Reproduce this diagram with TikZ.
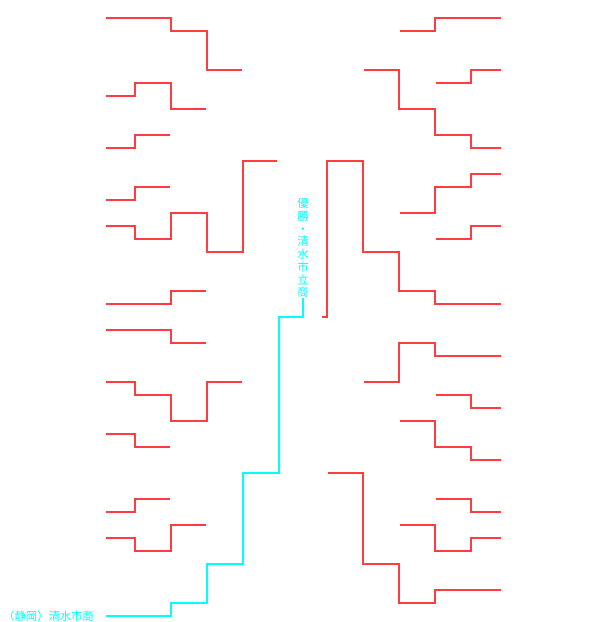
\documentclass[tikz,border=0pt]{standalone}
\usepackage{fontspec}
\newfontfamily\jpfont{Noto Sans CJK JP}
\definecolor{winred}{RGB}{255,60,64}
\definecolor{champcyan}{RGB}{0,255,255}

\begin{document}
\begin{tikzpicture}[x=1pt,y=-1pt,
    win/.style={draw=winred,line width=1.7pt},
    champ/.style={draw=champcyan,line width=1.7pt},
    label/.style={text=champcyan,inner sep=0pt,font=\jpfont\fontsize{11.3}{12.75}\selectfont}]
            \useasboundingbox (0,0) rectangle (608,622);
            % left half
            \draw[win] (106,17.7) -- (171,17.7) -- (171,30.7) -- (207,30.7) -- (207,69.7) -- (242,69.7);
            \draw[win] (106,95.7) -- (135,95.7) -- (135,82.7) -- (171,82.7) -- (171,108.7) -- (206,108.7);
            \draw[win] (106,147.7) -- (135,147.7) -- (135,134.7) -- (170,134.7);
            \draw[win] (106,199.7) -- (135,199.7) -- (135,186.7) -- (170,186.7);
            \draw[win] (106,225.7) -- (135,225.7) -- (135,238.7) -- (171,238.7) -- (171,212.7) -- (207,212.7) -- (207,251.7) -- (243,251.7) -- (243,160.7) -- (277,160.7);
            \draw[win] (106,303.7) -- (171,303.7) -- (171,290.7) -- (206,290.7);
            \draw[win] (106,329.7) -- (171,329.7) -- (171,342.7) -- (206,342.7);
            \draw[win] (106,381.7) -- (135,381.7) -- (135,394.7) -- (171,394.7) -- (171,420.7) -- (207,420.7) -- (207,381.7) -- (242,381.7);
            \draw[win] (106,433.7) -- (135,433.7) -- (135,446.7) -- (170,446.7);
            \draw[win] (106,511.7) -- (135,511.7) -- (135,498.7) -- (170,498.7);
            \draw[win] (106,537.7) -- (135,537.7) -- (135,550.7) -- (171,550.7) -- (171,524.7) -- (206,524.7);
            % right half
            \draw[win] (501,17.7) -- (435,17.7) -- (435,30.7) -- (400,30.7);
            \draw[win] (501,69.7) -- (471,69.7) -- (471,82.7) -- (436,82.7);
            \draw[win] (501,147.7) -- (471,147.7) -- (471,134.7) -- (435,134.7) -- (435,108.7) -- (399,108.7) -- (399,69.7) -- (364,69.7);
            \draw[win] (501,173.7) -- (471,173.7) -- (471,186.7) -- (435,186.7) -- (435,212.7) -- (400,212.7);
            \draw[win] (501,225.7) -- (471,225.7) -- (471,238.7) -- (436,238.7);
            \draw[win] (501,303.7) -- (435,303.7) -- (435,290.7) -- (399,290.7) -- (399,251.7) -- (363,251.7) -- (363,160.7) -- (327,160.7) -- (327,316.7) -- (322,316.7);
            \draw[win] (501,355.7) -- (435,355.7) -- (435,342.7) -- (399,342.7) -- (399,381.7) -- (364,381.7);
            \draw[win] (501,407.7) -- (471,407.7) -- (471,394.7) -- (436,394.7);
            \draw[win] (501,459.7) -- (471,459.7) -- (471,446.7) -- (435,446.7) -- (435,420.7) -- (400,420.7);
            \draw[win] (501,511.7) -- (471,511.7) -- (471,498.7) -- (436,498.7);
            \draw[win] (501,537.7) -- (471,537.7) -- (471,550.7) -- (435,550.7) -- (435,524.7) -- (400,524.7);
            \draw[win] (501,589.7) -- (435,589.7) -- (435,602.7) -- (399,602.7) -- (399,563.7) -- (363,563.7) -- (363,472.7) -- (328,472.7);
            % champion
            \node[label,anchor=east] (shimizu) at (94,615.7) {（静岡）清水市商};
            \node[label,anchor=south,align=center] (winner) at (303,298) {優\\勝\\・\\清\\水\\市\\立\\商};
            \draw[champ] ([xshift=12pt]shimizu.east) -- (171,615.7) -- (171,602.7) -- (207,602.7) -- (207,563.7) -- (243,563.7) -- (243,472.7) -- (279,472.7) -- (279,316.7) -- (303,316.7) -- (winner.south);
            \end{tikzpicture}
\end{document}
